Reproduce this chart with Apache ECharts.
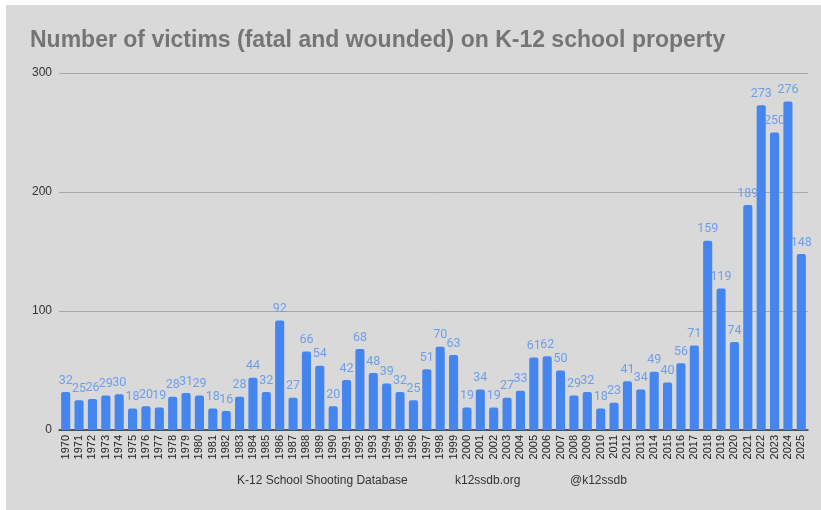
<!DOCTYPE html>
<html>
<head>
<meta charset="utf-8">
<script src="https://cdn.jsdelivr.net/npm/echarts@6/dist/echarts.min.js"></script>
<style>
  body { margin: 0; background: #fff; }
  #panel { position: absolute; left: 6px; top: 5px; width: 815px; height: 505px; background: #d9d9d9; }
  #main { position: absolute; left: 0; top: 0; width: 821px; height: 510px; }
</style>
</head>
<body>
<div id="panel"></div>
<div id="main"></div>
<script type="text/javascript">
// years on the x axis
var years = [];
for (var y = 1970; y <= 2025; y++) years.push(String(y));

// victims per year (fatal + wounded)
var victims = [32, 25, 26, 29, 30, 18, 20, 19, 28, 31,
               29, 18, 16, 28, 44, 32, 92, 27, 66, 54,
               20, 42, 68, 48, 39, 32, 25, 51, 70, 63,
               19, 34, 19, 27, 33, 61, 62, 50, 29, 32,
               18, 23, 41, 34, 49, 40, 56, 71, 159, 119,
               74, 189, 273, 250, 276, 148];

var yTicks = [0, 100, 200, 300];
var footer = ['K-12 School Shooting Database', 'k12ssdb.org', '@k12ssdb'];

var myChart = echarts.init(document.getElementById('main'));
var option = {
    title: {
        text: 'Number of victims (fatal and wounded) on K-12 school property',
        left: 25,
        top: 24,
        textStyle: {
            fontFamily: 'Liberation Sans',
            fontSize: 23,
            fontWeight: 'bold',
            color: '#757575'
        }
    },
    graphic: [
        { type: 'text', left: 237, top: 475, style: { text: footer[0], fontFamily: 'Liberation Sans', fontSize: 12, fill: '#333' } },
        { type: 'text', left: 455, top: 475, style: { text: footer[1], fontFamily: 'Liberation Sans', fontSize: 12, fill: '#333' } },
        { type: 'text', left: 570, top: 475, style: { text: footer[2], fontFamily: 'Liberation Sans', fontSize: 12, fill: '#333' } }
    ],
    grid: {
        left: 59,
        right: 13,
        top: 73,
        bottom: 80
    },
    xAxis: {
        type: 'category',
        data: years,
        axisTick: { show: false },
        axisLine: { lineStyle: { color: '#333', width: 1.5 } },
        axisLabel: {
            rotate: 90,
            interval: 0,
            margin: 5,
            fontFamily: 'Liberation Sans',
            fontSize: 11,
            color: '#222'
        }
    },
    yAxis: {
        type: 'value',
        min: yTicks[0],
        max: yTicks[yTicks.length - 1],
        interval: 100,
        axisLine: { show: false },
        axisTick: { show: false },
        splitLine: { lineStyle: { color: '#a9a9a9', width: 1 } },
        axisLabel: {
            margin: 7,
            fontFamily: 'Liberation Sans',
            fontSize: 12,
            color: '#333'
        }
    },
    series: [{
        name: 'victims',
        type: 'bar',
        data: victims,
        barCategoryGap: '32%',
        itemStyle: { color: '#4585ee', borderRadius: [2, 2, 0, 0] },
        label: {
            show: true,
            position: 'top',
            distance: 5,
            fontFamily: 'Roboto',
            fontSize: 12.5,
            color: '#6d9eeb'
        }
    }]
};
myChart.setOption(option);
</script>
</body>
</html>
